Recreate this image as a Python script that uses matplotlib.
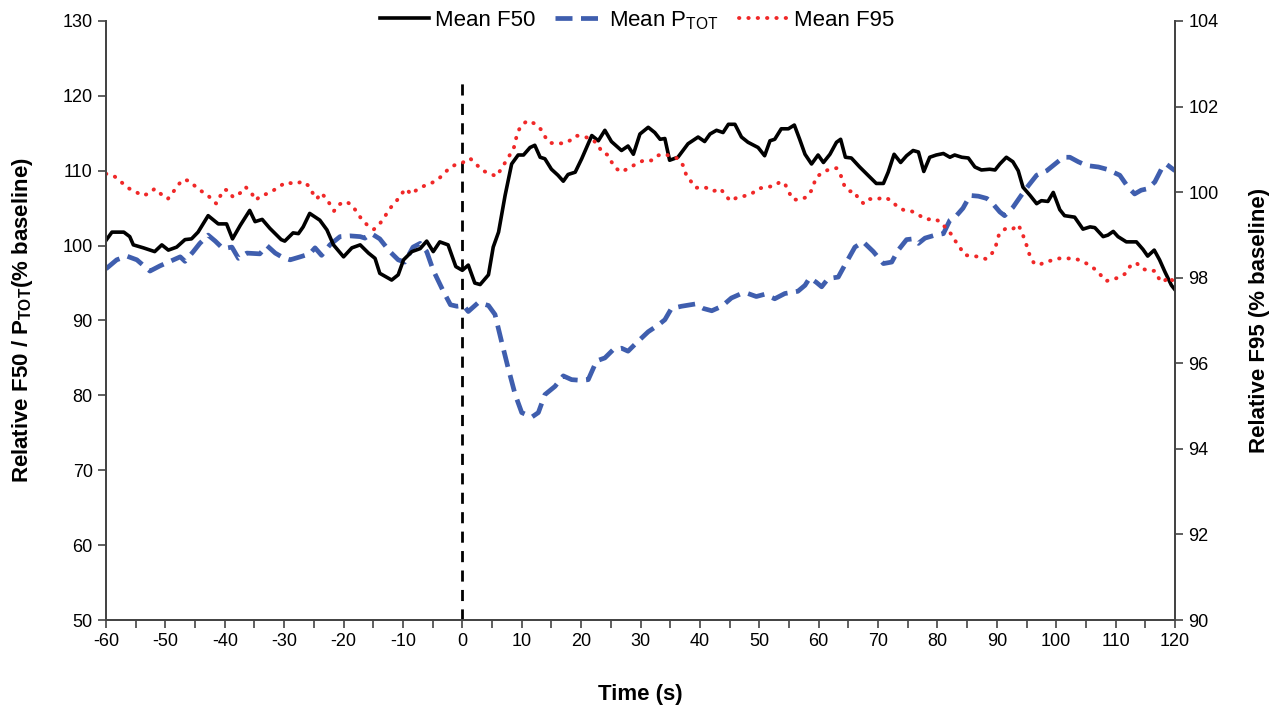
import matplotlib
matplotlib.use('Agg')
import matplotlib.pyplot as plt

plt.rcParams['font.family'] = ['Liberation Sans', 'DejaVu Sans']
plt.rcParams['mathtext.fontset'] = 'custom'
plt.rcParams['mathtext.rm'] = 'Liberation Sans'
plt.rcParams['mathtext.bf'] = 'Liberation Sans:bold'

# Mean F50 (left axis)
f50_t = [-60, -59, -57, -56, -55.4, -53.7, -51.8, -50.6, -49.5, -48.1, -46.7, -45.6, -44.5, -42.8, -41.1,
         -39.7, -38.7, -37.4, -35.8, -34.9, -33.7, -32.4, -30.5, -29.9, -28.5, -27.6, -26.8, -25.7, -24.0,
         -22.8, -21.7, -20.0, -18.6, -17.2, -15.8, -14.7, -13.9, -11.9, -10.8, -9.9, -8.5, -7.1, -6.0, -4.9,
         -3.8, -2.4, -1.1, 0.0, 1.0, 2.1, 3.0, 4.4, 5.2, 6.1, 7.2, 8.3, 9.4, 10.3, 11.4, 12.2, 13.1, 13.9,
         15.0, 16.1, 17.0, 17.8, 19.0, 20.1, 21.2, 21.8, 22.9, 24.0, 25.1, 26.8, 27.9, 28.8, 29.9, 31.3,
         32.4, 33.3, 34.1, 34.9, 36.3, 38.0, 39.7, 40.8, 41.7, 42.8, 43.9, 44.8, 45.9, 47.0, 48.1, 49.8,
         50.9, 51.8, 52.6, 53.7, 54.9, 55.9, 56.8, 57.7, 58.8, 59.9, 60.8, 61.9, 63.0, 63.7, 64.5, 65.5,
         66.9, 68.3, 69.7, 70.9, 71.7, 72.7, 73.8, 74.8, 75.9, 76.8, 77.7, 78.7, 79.8, 81.0, 82.1, 82.9,
         84.1, 85.2, 86.3, 87.4, 88.8, 89.7, 90.5, 91.6, 92.7, 93.6, 94.4, 95.6, 96.7, 97.5, 98.6, 99.5,
         100.6, 101.4, 103.1, 104.5, 105.7, 106.5, 107.9, 108.7, 109.6, 110.4, 111.8, 113.5, 114.6, 115.4,
         116.5, 117.4, 118.3, 119.4, 120]
f50 = [100.7, 101.8, 101.8, 101.2, 100.1, 99.7, 99.2, 100.1, 99.4, 99.8, 100.8, 100.9, 101.8, 104.0, 102.9,
       102.9, 100.9, 102.7, 104.7, 103.2, 103.5, 102.3, 100.8, 100.6, 101.7, 101.6, 102.5, 104.3, 103.4,
       102.1, 100.1, 98.5, 99.7, 100.1, 99.0, 98.3, 96.3, 95.4, 96.1, 98.1, 99.2, 99.6, 100.6, 99.2,
       100.5, 100.1, 97.2, 96.7, 97.4, 95.0, 94.8, 96.1, 99.8, 101.8, 106.7, 110.9, 112.1, 112.1, 113.1,
       113.4, 111.8, 111.6, 110.2, 109.4, 108.6, 109.5, 109.8, 111.6, 113.6, 114.7, 114.0, 115.4, 113.9,
       112.7, 113.3, 112.2, 114.9, 115.8, 115.1, 114.2, 114.3, 111.4, 111.8, 113.6, 114.5, 113.9, 114.9,
       115.4, 115.1, 116.2, 116.2, 114.5, 113.8, 113.1, 112.0, 114.0, 114.2, 115.6, 115.6, 116.1, 114.2,
       112.2, 110.9, 112.1, 111.1, 112.2, 113.8, 114.2, 111.8, 111.7, 110.5, 109.4, 108.3, 108.3, 109.8,
       112.2, 111.1, 112.0, 112.7, 112.5, 109.9, 111.8, 112.1, 112.3, 111.8, 112.1, 111.8, 111.7, 110.5,
       110.1, 110.2, 110.1, 110.9, 111.8, 111.2, 110.0, 107.8, 106.7, 105.6, 106.0, 105.9, 107.1, 104.8,
       104.0, 103.8, 102.2, 102.5, 102.4, 101.2, 101.4, 101.9, 101.2, 100.5, 100.5, 99.5, 98.6, 99.4,
       98.1, 96.5, 94.7, 94.1]

# Mean PTOT (left axis)
ptot_t = [-60, -58.2, -56.5, -54.8, -52.6, -50.9, -49.2, -47.5, -46.7, -45.3, -44.2, -42.8, -41.6, -40.3,
          -38.8, -37.7, -36.3, -34.1, -32.9, -31.5, -30.2, -29.0, -27.3, -25.7, -24.8, -23.7, -22.3, -20.6,
          -18.9, -17.2, -16.4, -15.3, -13.9, -12.2, -10.8, -9.7, -8.3, -7.1, -6.0, -4.9, -3.2, -2.0, -0.9,
          0.2, 1.0, 2.7, 4.4, 5.5, 6.6, 7.7, 8.9, 10.0, 11.7, 12.8, 13.9, 15.6, 17.0, 18.4, 20.1, 21.2,
          22.6, 24.0, 25.4, 26.8, 27.9, 29.3, 31.3, 33.0, 34.1, 35.2, 36.9, 39.2, 40.6, 42.0, 43.7, 45.3,
          47.0, 48.1, 49.5, 50.9, 52.6, 54.3, 56.5, 57.7, 58.5, 59.6, 60.5, 61.6, 63.3, 64.4, 66.1, 67.5,
          69.2, 70.9, 72.3, 73.4, 74.8, 75.9, 76.8, 77.9, 79.6, 81.0, 82.1, 83.2, 84.3, 85.5, 86.9, 88.3,
          89.1, 90.5, 91.3, 92.7, 94.1, 95.3, 96.7, 98.4, 99.8, 101.2, 102.3, 103.7, 105.1, 107.1, 108.5,
          109.6, 110.7, 112.1, 113.2, 114.3, 115.4, 116.6, 117.7, 118.5, 120]
ptot = [96.9, 98.1, 98.6, 98.1, 96.6, 97.3, 97.9, 98.5, 97.9, 99.2, 100.3, 101.4, 100.6, 99.6,
        99.8, 98.3, 99.0, 98.9, 100.0, 99.0, 98.4, 98.1, 98.5, 98.9, 99.7, 98.7, 100.1, 101.2,
        101.3, 101.2, 101.0, 101.6, 100.9, 99.2, 98.1, 97.8, 99.8, 100.3, 99.2, 96.7, 93.9, 92.1, 91.9,
        92.0, 91.2, 92.4, 92.0, 90.8, 87.2, 83.7, 80.1, 77.7, 77.1, 77.7, 80.1, 81.2, 82.6, 82.1, 82.0, 82.1,
        84.6, 85.0, 86.1, 86.3, 85.9, 87.0, 88.5, 89.4, 90.1, 91.6, 91.9, 92.2, 91.6, 91.3, 91.9, 93.0,
        93.6, 93.6, 93.2, 93.5, 92.9, 93.6, 93.9, 94.7, 95.7, 95.1, 94.5, 95.6, 95.8, 97.4, 99.8, 100.5,
        99.2, 97.6, 97.8, 99.4, 100.8, 100.9, 100.3, 101.0, 101.4, 101.6, 103.4, 104.0, 105.0, 106.7, 106.6, 106.3,
        105.8, 104.5, 104.0, 105.1, 106.7, 108.0, 109.4, 110.0, 110.9, 111.8, 111.8, 111.2, 110.7, 110.5, 110.2,
        109.8, 109.4, 107.8, 106.9, 107.4, 107.6, 108.5, 110.2, 110.9, 110.0]

# Mean F95 (right axis)
f95_t = [-60, -58.5, -57.4, -56.2, -55.1, -54.0, -52.8, -51.8, -50.7, -49.6, -48.8, -48.0, -47.1, -46.1,
         -45.0, -43.9, -42.8, -41.9, -41.4, -40.8, -40.1, -39.4, -38.6, -37.4, -36.5, -35.5, -34.8, -33.9,
         -32.9, -31.7, -30.5, -29.6, -28.2, -26.9, -25.9, -25.2, -24.5, -23.8, -22.8, -22.2, -21.6, -20.8,
         -19.6, -18.5, -17.7, -16.9, -16.0, -14.9, -13.9, -13.0, -12.3, -11.5, -10.7, -9.9, -9.4, -8.7,
         -7.8, -6.7, -5.2, -4.0, -3.1, -2.2, -1.3, 0.2, 1.3, 2.4, 3.5, 4.6, 5.8, 6.6, 7.3, 8.0, 8.7, 9.3,
         10.0, 11.0, 12.2, 13.2, 13.9, 14.7, 16.0, 17.2, 18.3, 19.2, 20.5, 21.6, 22.8, 23.5, 24.5, 25.1,
         25.8, 26.8, 28.0, 29.3, 30.5, 31.8, 32.7, 34.0, 35.1, 36.2, 37.2, 37.7, 38.5, 39.3, 40.6, 41.3,
         42.2, 43.5, 44.3, 45.2, 46.3, 47.5, 48.7, 49.8, 51.1, 52.5, 53.6, 54.4, 55.0, 55.6, 56.7, 57.9,
         58.8, 59.6, 60.8, 61.9, 63.0, 63.7, 64.4, 65.3, 66.0, 66.7, 67.6, 68.5, 69.7, 71.0, 72.2, 73.3,
         74.5, 75.7, 76.9, 78.2, 79.4, 80.6, 81.4, 82.3, 83.1, 83.9, 84.6, 85.7, 87.0, 88.1, 88.9, 89.7,
         90.4, 91.5, 92.6, 93.6, 94.2, 94.7, 95.2, 95.6, 96.3, 97.2, 98.1, 99.5, 100.5, 101.7, 103.1,
         104.3, 105.4, 106.5, 107.5, 108.4, 109.3, 110.5, 111.7, 112.4, 113.5, 114.3, 115.6, 116.6, 117.3,
         118.0, 118.9, 119.7]
f95 = [100.43, 100.36, 100.23, 100.09, 100.02, 99.92, 99.96, 100.08, 99.95, 99.84, 99.98, 100.14, 100.29, 100.27,
       100.14, 100.02, 99.92, 99.78, 99.73, 99.90, 100.06, 100.04, 99.88, 99.98, 100.12, 99.98, 99.81, 99.92,
       99.96, 100.05, 100.16, 100.23, 100.19, 100.25, 100.15, 99.98, 99.84, 99.98, 99.84, 99.69, 99.56, 99.71,
       99.78, 99.69, 99.51, 99.36, 99.23, 99.13, 99.26, 99.44, 99.60, 99.73, 99.86, 100.02, 100.08, 99.95,
       100.04, 100.13, 100.21, 100.31, 100.43, 100.56, 100.63, 100.70, 100.79, 100.64, 100.50, 100.43, 100.37,
       100.56, 100.71, 100.87, 101.05, 101.40, 101.57, 101.67, 101.60, 101.47, 101.30, 101.15, 101.14, 101.14,
       101.22, 101.32, 101.29, 101.26, 101.12, 100.93, 100.87, 100.71, 100.56, 100.47, 100.56, 100.66, 100.74,
       100.74, 100.85, 100.89, 100.84, 100.79, 100.62, 100.40, 100.25, 100.10, 100.12, 100.09, 100.02, 100.08,
       99.92, 99.79, 99.88, 99.91, 99.96, 100.08, 100.12, 100.14, 100.25, 100.17, 100.00, 99.83, 99.82, 99.88,
       100.04, 100.35, 100.47, 100.54, 100.56, 100.40, 100.12, 100.02, 100.02, 99.84, 99.73, 99.84, 99.83,
       99.88, 99.81, 99.65, 99.57, 99.55, 99.46, 99.36, 99.38, 99.30, 99.16, 99.02, 98.84, 98.68, 98.53, 98.51,
       98.49, 98.44, 98.51, 98.68, 99.03, 99.15, 99.13, 99.24, 99.07, 98.88, 98.68, 98.49, 98.33, 98.30, 98.37,
       98.41, 98.45, 98.45, 98.45, 98.39, 98.31, 98.20, 98.06, 97.92, 97.96, 98.00, 98.10, 98.26, 98.35, 98.22,
       98.16, 98.16, 97.98, 97.89, 98.02, 97.92]

x_ticks = list(range(-60, 121, 5))
x_labels = [str(v) if v % 10 == 0 else '' for v in x_ticks]

fig = plt.figure(figsize=(12.74, 7.06), dpi=100)
ax = fig.add_axes([0.0832, 0.1218, 0.8391, 0.8485])
ax2 = ax.twinx()

ax.plot(f50_t, f50, color='black', lw=2.6, label='Mean F50', zorder=4)
ax.plot(ptot_t, ptot, color='#3f5eae', lw=3.4, linestyle=(0, (3.6, 1.8)), label='Mean P$_{\\mathregular{TOT}}$', zorder=3)
ax2.plot(f95_t, f95, color='#f02828', lw=2.8, linestyle=(0, (0.1, 2.3)), dash_capstyle='round', label='Mean F95')
ax.plot([0, 0], [50, 121.8], color='black', lw=2, linestyle=(0, (4, 3)), zorder=5)

ax.set_xlim(-60, 120)
ax.set_ylim(50, 130)
ax2.set_ylim(90, 104)
ax.set_xticks(x_ticks)
ax.set_xticklabels(x_labels)
ax.set_yticks(range(50, 131, 10))
ax2.set_yticks(range(90, 105, 2))

for a in (ax, ax2):
    a.spines['top'].set_visible(False)
    for s in a.spines.values():
        s.set_color('#444444')
        s.set_linewidth(1.3)
    a.tick_params(labelsize=13, length=6, width=1.2, color='#444444', direction='out')

ax.set_xlabel('Time (s)', fontsize=16, fontweight='bold', labelpad=24)
ax.set_ylabel('Relative F50 / P$_{\\mathbf{TOT}}$(% baseline)', fontsize=16, fontweight='bold', labelpad=20)
ax2.set_ylabel('Relative F95 (% baseline)', fontsize=16, fontweight='bold', labelpad=22)

h1, l1 = ax.get_legend_handles_labels()
h2, l2 = ax2.get_legend_handles_labels()
fig.legend(h1 + h2, l1 + l2, loc='center', bbox_to_anchor=(0.5, 0.971), ncol=3, frameon=False,
           fontsize=16, handlelength=2.2, columnspacing=0.9, handletextpad=0.25)

fig.savefig('out.png', dpi=100)
